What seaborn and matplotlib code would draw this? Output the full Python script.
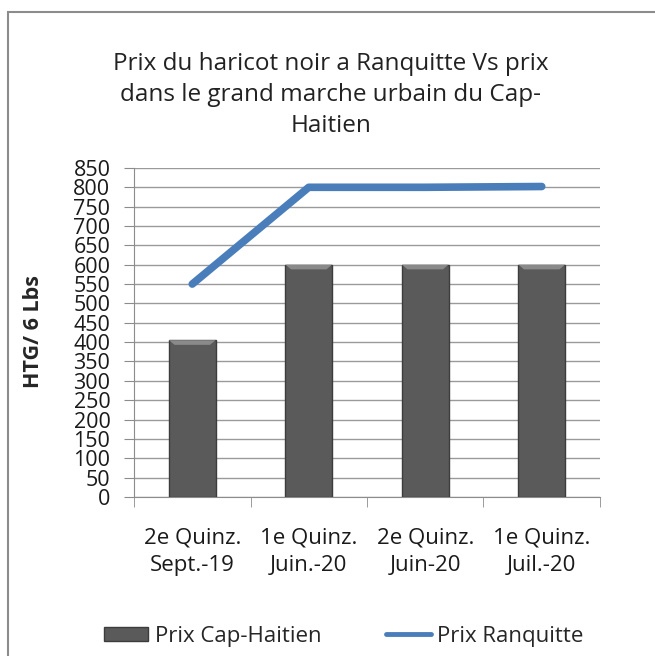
import numpy as np
import pandas as pd
import seaborn as sns
import matplotlib.pyplot as plt
from matplotlib.patches import Rectangle, Polygon, Patch
from matplotlib.lines import Line2D

# donnees
periodes = ["2e Quinz.\nSept.-19", "1e Quinz.\nJuin.-20", "2e Quinz.\nJuin-20", "1e Quinz.\nJuil.-20"]
prix_cap = [405, 600, 600, 600]
prix_ranquitte = [550, 800, 800, 802]

df = pd.DataFrame({"periode": periodes, "cap": prix_cap, "ranq": prix_ranquitte})

sns.set_style("white")
plt.rcParams['font.family'] = ['Open Sans', 'DejaVu Sans']

fig = plt.figure(figsize=(6.55, 6.56), dpi=100)
ax = fig.add_axes([0.2046, 0.2424, 0.7114, 0.5016])

# cadre exterieur
fig.patches.append(Rectangle((8 / 655, -0.1), 1.2, (656 - 12) / 656 + 0.1, transform=fig.transFigure,
                             fill=False, edgecolor='#8c8c8c', linewidth=1.5))

sns.barplot(data=df, x="periode", y="cap", color='#5a5a5a', width=0.4,
            edgecolor='#3c3c3c', linewidth=1, saturation=1, ax=ax, zorder=3)

# petit biseau en haut des barres (a partir des barres de seaborn)
for p in list(ax.patches):
    x0, w, h = p.get_x(), p.get_width(), p.get_height()
    dx, dy = w * 0.12, 12
    ax.add_patch(Polygon([(x0, h), (x0 + w, h), (x0 + w - dx, h - dy), (x0 + dx, h - dy)],
                         closed=True, facecolor='#8a8a8a', edgecolor='none', zorder=3.5))

ax.plot(range(len(periodes)), prix_ranquitte, color='#4a7ebb', linewidth=5.5,
        solid_capstyle='round', solid_joinstyle='round', zorder=4)

ax.set_xlim(-0.5, 3.5)
ax.set_ylim(0, 850)
ax.set_yticks(range(0, 851, 50))
ax.yaxis.grid(True, color='#9a9a9a', linewidth=1)
ax.set_axisbelow(True)
for s in ['top', 'right']:
    ax.spines[s].set_visible(False)
ax.spines['left'].set_color('#8c8c8c')
ax.spines['bottom'].set_color('#8c8c8c')
ax.tick_params(axis='y', length=7, color='#8c8c8c', labelsize=15.5, pad=10, direction='out',
               left=True, labelcolor='#1a1a1a')
ax.tick_params(axis='x', which='major', length=0, labelsize=16, pad=22, labelcolor='#1a1a1a')
ax.set_xticks([-0.5, 0.5, 1.5, 2.5, 3.5], minor=True)
ax.tick_params(axis='x', which='minor', length=7, color='#8c8c8c', bottom=True)
for lab in ax.get_xticklabels():
    lab.set_linespacing(1.4)
ax.set_xlabel("")
ax.set_ylabel("")

fig.text(0.051, 0.495, "HTG/ 6 Lbs", rotation=90, fontsize=15.5, fontweight='bold',
         ha='center', va='center')

fig.text(0.505, 0.855, "Prix du haricot noir a Ranquitte Vs prix\ndans le grand marche urbain du Cap-\nHaitien",
         ha='center', va='center', fontsize=17.5, linespacing=1.4, color='#222222')

handles = [Patch(facecolor='#5a5a5a', edgecolor='#3c3c3c'),
           Line2D([0], [0], color='#4a7ebb', linewidth=3.5)]
fig.legend(handles, ["Prix Cap-Haitien", "Prix Ranquitte"], loc='center', ncol=2,
           bbox_to_anchor=(0.525, 0.03), frameon=False, fontsize=16,
           handlelength=2.0, handleheight=0.6, columnspacing=2.9, handletextpad=0.3)

fig.savefig("out.png", dpi=100)
